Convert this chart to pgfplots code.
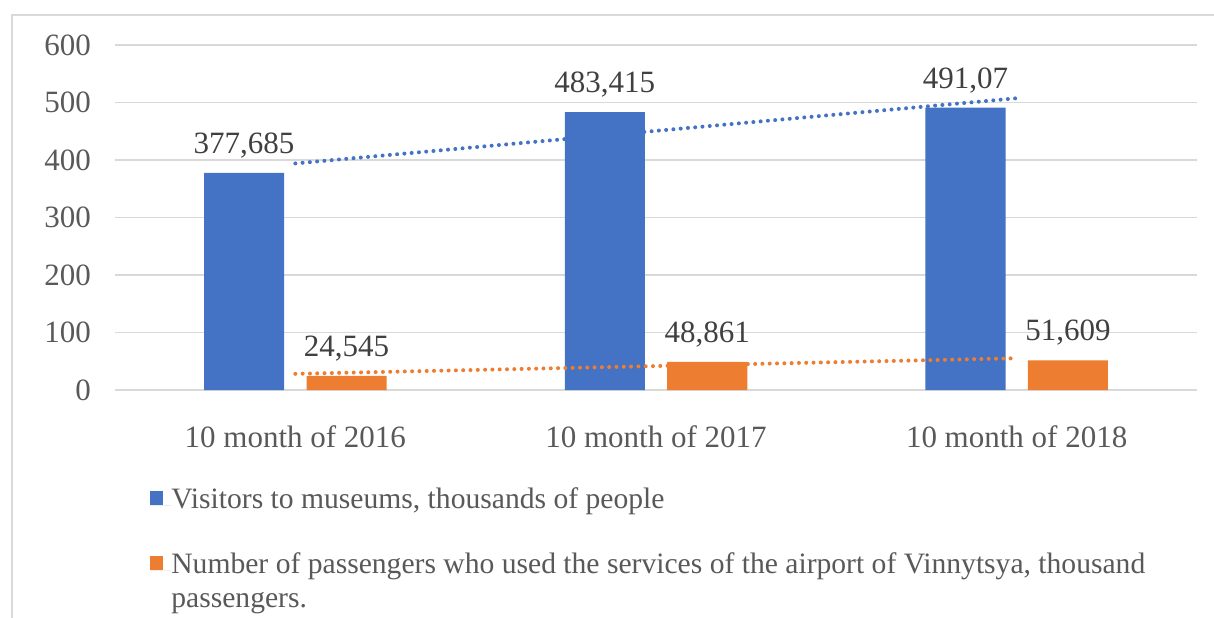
\documentclass[border=0pt]{standalone}
\usepackage{pgfplots}
\pgfplotsset{compat=1.18}
\usepackage{fontspec}
\setmainfont{Liberation Serif}
\definecolor{cblue}{HTML}{4472C4}
\definecolor{corange}{HTML}{ED7D31}
\definecolor{cgrid}{HTML}{D9D9D9}
\definecolor{ctext}{HTML}{595959}
\definecolor{clabel}{HTML}{404040}
\begin{document}
\begin{tikzpicture}[font=\fontsize{15.5pt}{18.3pt}\selectfont]
\useasboundingbox (0pt,0pt) rectangle (607pt,308.5pt);
\draw[cgrid, line width=1pt] (5.75pt,-20pt) |- (640pt,301.2pt);
\begin{axis}[
  at={(57.5pt,113.5pt)}, anchor=south west,
  scale only axis, width=541pt, height=172.5pt,
  xmin=-0.5, xmax=2.5, ymin=0, ymax=600,
  ytick={0,100,...,600},
  xtick={0,1,2},
  xticklabels={10 month of 2016, 10 month of 2017, 10 month of 2018},
  ymajorgrids, grid style={cgrid, line width=0.6pt},
  axis line style={draw=none},
  major tick style={draw=none},
  tick label style={text=ctext},
  /pgf/number format/assume math mode=true,
  yticklabel style={xshift=-8.5pt},
  xticklabel style={anchor=base, yshift=-28.5pt},
  legend style={at={(0.0323,-0.281)}, anchor=north west, draw=none,
    inner sep=0pt, row sep=20.5pt, text=ctext,
    font=\fontsize{14.8pt}{17.4pt}\selectfont,
    cells={anchor=base west},
    nodes={inner sep=0pt}},
  legend image code/.code={\fill[#1] (0pt,1.5pt) rectangle (6.5pt,8.5pt); \path (0pt,1.5pt) -- (10.5pt,1.5pt);},
  nodes near coords={\pgfmathprintnumber[fixed, precision=3, use comma, assume math mode=true]{\pgfplotspointmeta}},
  every node near coord/.append style={anchor=base, yshift=9.75pt, text=clabel, font=\fontsize{15.5pt}{18.3pt}\selectfont},
]
\addplot[ybar, bar width=0.222, fill=cblue, draw=none] coordinates {(-0.142,377.685) (0.858,483.415) (1.858,491.07)};
\addlegendentry{Visitors to museums, thousands of people}
\addplot[ybar, bar width=0.222, fill=corange, draw=none] coordinates {(0.142,24.545) (1.142,48.861) (2.142,51.609)};
\addlegendentry{\vtop{\hbox{Number of passengers who used the services of the airport of Vinnytsya, thousand}\hbox{passengers.}}}
\addplot[cblue, line width=2pt, line cap=round, dash pattern=on 0pt off 3.65pt, nodes near coords={}, forget plot] coordinates {(0,394.031) (2,507.416)};
\addplot[corange, line width=2pt, line cap=round, dash pattern=on 0pt off 3.65pt, nodes near coords={}, forget plot] coordinates {(0,28.140) (2,55.204)};
\end{axis}
\end{tikzpicture}
\end{document}
